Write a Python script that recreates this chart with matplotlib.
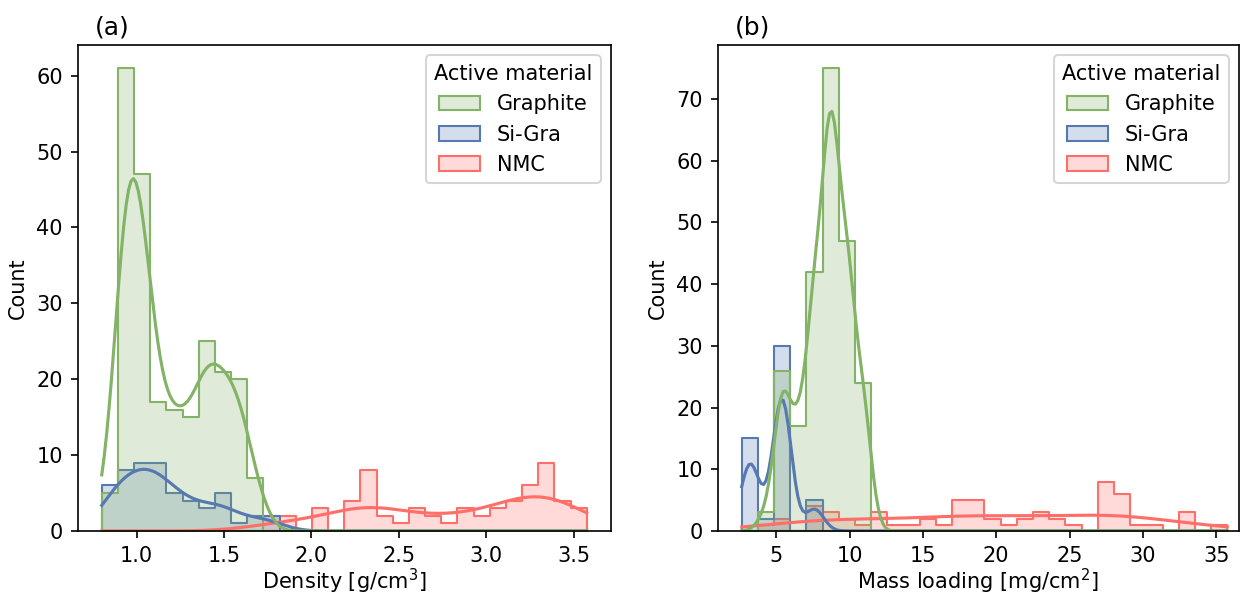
import matplotlib
matplotlib.use("Agg")
import matplotlib.pyplot as plt
import numpy as np
import pandas as pd
import seaborn as sns

materials = ["Graphite", "Si-Gra", "NMC"]
palette = {"Graphite": "#82B366", "Si-Gra": "#5779B1", "NMC": "#FF6F69"}

# (a) electrode density, 30 common bins
density_range = (0.8, 3.575)
density_counts = {
    "Graphite": [5, 61, 47, 17, 16, 15, 25, 21, 20, 7,
                 0, 0, 0, 0, 0, 0, 0, 0, 0, 0,
                 0, 0, 0, 0, 0, 0, 0, 0, 0, 0],
    "Si-Gra":   [6, 8, 9, 9, 5, 4, 3, 5, 1, 2,
                 2, 0, 0, 0, 0, 0, 0, 0, 0, 0,
                 0, 0, 0, 0, 0, 0, 0, 0, 0, 0],
    "NMC":      [0, 0, 0, 0, 0, 0, 0, 0, 0, 0,
                 2, 2, 0, 3, 0, 4, 8, 2, 1, 3,
                 2, 1, 3, 2, 3, 4, 6, 9, 4, 3],
}

# (b) mass loading, 30 common bins
loading_range = (2.65, 35.75)
loading_counts = {
    "Graphite": [0, 3, 26, 17, 42, 75, 47, 24, 0, 0,
                 0, 0, 0, 0, 0, 0, 0, 0, 0, 0,
                 0, 0, 0, 0, 0, 0, 0, 0, 0, 0],
    "Si-Gra":   [15, 2, 30, 0, 5, 0, 0, 0, 0, 0,
                 0, 0, 0, 0, 0, 0, 0, 0, 0, 0,
                 0, 0, 0, 0, 0, 0, 0, 0, 0, 0],
    "NMC":      [0, 1, 2, 0, 4, 3, 2, 1, 3, 1,
                 1, 2, 1, 5, 5, 2, 1, 2, 3, 2,
                 1, 0, 8, 6, 1, 1, 0, 3, 0, 1],
}


# turn the binned counts back into a long table of observations
def to_frame(counts, rng, col):
    edges = np.linspace(rng[0], rng[1], 31)
    centers = (edges[:-1] + edges[1:]) / 2
    rows = []
    for m in materials:
        vals = np.repeat(centers, counts[m])
        rows.append(pd.DataFrame({col: vals, "Active material": m}))
    return pd.concat(rows, ignore_index=True)


fig = plt.figure(figsize=(1241 / 150, 595 / 150), dpi=150)
ax1 = fig.add_axes([77.5 / 1241, 64 / 595, 533.5 / 1241, 486 / 595])
ax2 = fig.add_axes([717.5 / 1241, 64 / 595, 521.5 / 1241, 486 / 595])

panels = [
    (ax1, density_counts, density_range, "Density [g/cm$^3$]", "(a)", 0.9),
    (ax2, loading_counts, loading_range, "Mass loading [mg/cm$^2$]", "(b)", 1.05),
]
for ax, counts, rng, xlabel, tag, bw in panels:
    df = to_frame(counts, rng, xlabel)
    sns.histplot(data=df, x=xlabel, hue="Active material", hue_order=materials,
                 bins=30, binrange=rng, element="step", kde=True,
                 kde_kws={"cut": 3, "clip": rng, "bw_adjust": bw},
                 palette=palette, ax=ax)
    ax.set_ylabel("Count")
    ax.set_xlabel(xlabel, labelpad=0.5)
    sns.move_legend(ax, "upper right")
    ax.text(0.033, 1.012, tag, transform=ax.transAxes, fontsize=12, va="bottom")

ax2.set_xlim(1.0, 36.55)

fig.savefig("out.png", dpi=150)
